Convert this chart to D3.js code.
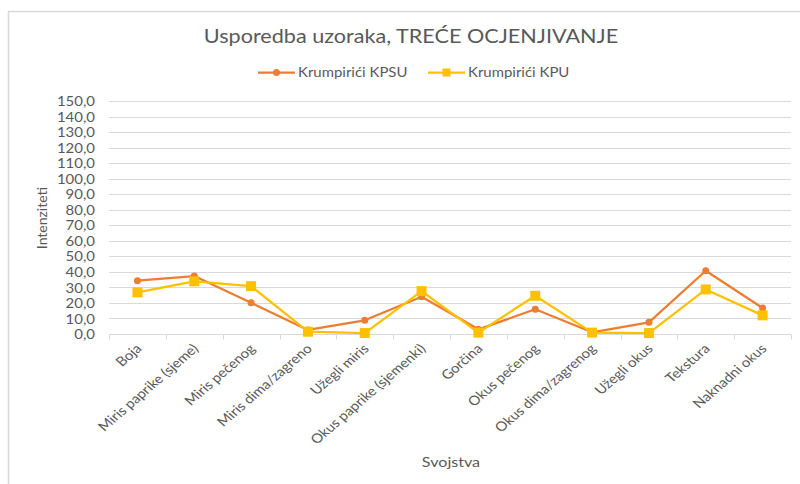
<!DOCTYPE html>
<html>
<head>
<meta charset="utf-8">
<script src="https://cdn.jsdelivr.net/npm/d3@7"></script>
<style>
  html, body { margin: 0; padding: 0; background: #fff; }
  svg text { font-family: Lato, "Open Sans", sans-serif; }
</style>
</head>
<body>
<div id="app"></div>
<script>
const categories = [
    'Boja', 'Miris paprike (sjeme)', 'Miris pečenog', 'Miris dima/zagreno',
    'Užegli miris', 'Okus paprike (sjemenki)', 'Gorčina', 'Okus pečenog',
    'Okus dima/zagrenog', 'Užegli okus', 'Tekstura', 'Naknadni okus'
]
const kpsu = [34.3, 37.3, 20.1, 2.6, 8.8, 24.0, 3.0, 15.9, 1.1, 7.5, 40.7, 16.7]
const kpu = [26.8, 33.9, 30.8, 1.5, 0.6, 27.6, 0.9, 24.6, 0.9, 0.6, 28.7, 12.0]
const y_ticks = d3.range(0, 151, 10)

const series = [
    {name: 'Krumpirići KPSU', values: kpsu, color: '#ED7D31', marker: 'circle'},
    {name: 'Krumpirići KPU', values: kpu, color: '#FFC000', marker: 'square'}
]

const width = 800
const height = 484
// the original text looks a bit stretched sideways
const stretch = 1.15

const svg = d3.select('#app')
    .append('svg')
    .attr('width', width)
    .attr('height', height)

// chart frame (runs off the right/bottom edge like the original)
svg.append('rect')
    .attr('x', 8.5).attr('y', 11.5)
    .attr('width', 810).attr('height', 500)
    .attr('fill', '#fff')
    .attr('stroke', '#d9d9d9')
    .attr('stroke-width', 1.5)

const x_scale = d3.scaleBand()
    .domain(categories)
    .range([109, 791])

const y_scale = d3.scaleLinear()
    .domain([0, 150])
    .range([334, 101])

// gridlines
svg.append('g')
    .selectAll('line')
    .data(y_ticks.filter(d => d > 0))
    .join('line')
    .attr('x1', x_scale.range()[0])
    .attr('x2', x_scale.range()[1])
    .attr('y1', d => Math.round(y_scale(d)) + 0.5)
    .attr('y2', d => Math.round(y_scale(d)) + 0.5)
    .attr('stroke', '#d9d9d9')
    .attr('stroke-width', 1)

// y axis labels
const y_axis = svg.append('g')
    .attr('transform', `translate(${x_scale.range()[0]}, 0.5)`)
    .call(d3.axisLeft(y_scale)
        .tickValues(y_ticks)
        .tickSize(0)
        .tickFormat(d => d3.format('.1f')(d).replace('.', ',')))
y_axis.select('.domain').remove()
y_axis.selectAll('text')
    .attr('x', 0)
    .attr('transform', `translate(-14, 0) scale(${stretch}, 1)`)
    .attr('fill', '#595959')
    .style('font-size', '13px')

// x axis
const x_axis = svg.append('g')
    .attr('transform', `translate(0, ${Math.round(y_scale(0)) + 0.5})`)
x_axis.append('line')
    .attr('x1', x_scale.range()[0])
    .attr('x2', x_scale.range()[1])
    .attr('stroke', '#d9d9d9')
x_axis.selectAll('.tk')
    .data(categories.concat(['__end']))
    .join('line')
    .attr('class', 'tk')
    .attr('x1', (d, i) => Math.round(x_scale.range()[0] + i * x_scale.step()) + 0.5)
    .attr('x2', (d, i) => Math.round(x_scale.range()[0] + i * x_scale.step()) + 0.5)
    .attr('y1', 0)
    .attr('y2', 5)
    .attr('stroke', '#d9d9d9')
x_axis.selectAll('text')
    .data(categories)
    .join('text')
    .attr('transform', d => `translate(${x_scale(d) + x_scale.bandwidth() / 2 + 5}, 15) scale(${stretch}, 1) rotate(-45)`)
    .attr('text-anchor', 'end')
    .attr('fill', '#595959')
    .style('font-size', '13px')
    .text(d => d)

// lines + markers
const line = d3.line()
    .x((d, i) => x_scale(categories[i]) + x_scale.bandwidth() / 2)
    .y(d => y_scale(d))

series.forEach(s => {
    const g = svg.append('g')
    g.append('path')
        .datum(s.values)
        .attr('d', line)
        .attr('fill', 'none')
        .attr('stroke', s.color)
        .attr('stroke-width', 2.25)
        .attr('stroke-linejoin', 'round')
    if (s.marker == 'circle') {
        g.selectAll('circle')
            .data(s.values)
            .join('circle')
            .attr('cx', (d, i) => x_scale(categories[i]) + x_scale.bandwidth() / 2)
            .attr('cy', d => y_scale(d))
            .attr('r', 3.5)
            .attr('fill', s.color)
    } else {
        g.selectAll('rect')
            .data(s.values)
            .join('rect')
            .attr('x', (d, i) => x_scale(categories[i]) + x_scale.bandwidth() / 2 - 5)
            .attr('y', d => y_scale(d) - 5)
            .attr('width', 10)
            .attr('height', 10)
            .attr('fill', s.color)
    }
})

// title
svg.append('text')
    .attr('transform', `translate(411, 43) scale(${stretch}, 1)`)
    .attr('text-anchor', 'middle')
    .attr('fill', '#595959')
    .style('font-size', '18.8px')
    .text('Usporedba uzoraka, TREĆE OCJENJIVANJE')

// legend
const legend_x = [258, 428]
series.forEach((s, i) => {
    const g = svg.append('g').attr('transform', `translate(${legend_x[i]}, 72.5)`)
    g.append('line')
        .attr('x1', 0).attr('x2', 37)
        .attr('stroke', s.color)
        .attr('stroke-width', 2.25)
    if (s.marker == 'circle') {
        g.append('circle').attr('cx', 18.5).attr('r', 3.5).attr('fill', s.color)
    } else {
        g.append('rect').attr('x', 14.5).attr('y', -4).attr('width', 8).attr('height', 8).attr('fill', s.color)
    }
    g.append('text')
        .attr('transform', `translate(40, 0) scale(${stretch}, 1)`)
        .attr('dy', '0.35em')
        .attr('fill', '#595959')
        .style('font-size', '13px')
        .text(s.name)
})

// axis titles
svg.append('text')
    .attr('transform', `translate(47, 218) rotate(-90)`)
    .attr('text-anchor', 'middle')
    .attr('fill', '#595959')
    .style('font-size', '14px')
    .text('Intenziteti')

svg.append('text')
    .attr('transform', `translate(451, 467) scale(${stretch}, 1)`)
    .attr('text-anchor', 'middle')
    .attr('fill', '#595959')
    .style('font-size', '14px')
    .text('Svojstva')
</script>
</body>
</html>
